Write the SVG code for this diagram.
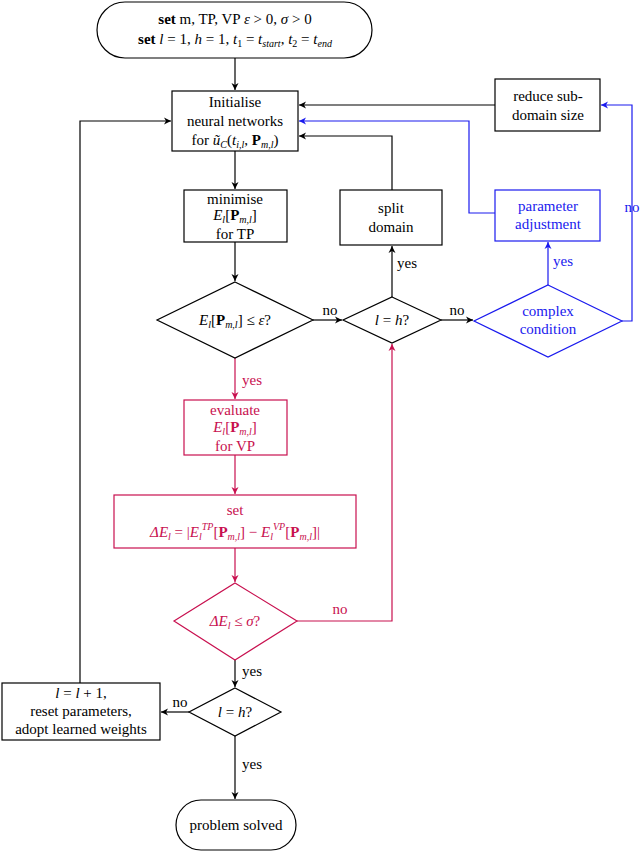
<svg xmlns="http://www.w3.org/2000/svg" width="640" height="852" viewBox="0 0 640 852">
<style>
text{font-family:"Liberation Serif","DejaVu Serif",serif;font-size:15px;text-anchor:middle;fill:#000}
.i{font-style:italic}.b{font-weight:bold}
.k{fill:#fff;stroke:#000;stroke-width:1.2}
.r{fill:#fff;stroke:#c8104f;stroke-width:1.2}
.u{fill:#fff;stroke:#1a1aee;stroke-width:1.2}
.rt{fill:#c8104f}.ut{fill:#1a1aee}
.c{fill:none;stroke-width:1.2}
</style>
<defs>
<marker id="ak" markerWidth="8" markerHeight="8" refX="7" refY="4" orient="auto" markerUnits="userSpaceOnUse"><path d="M0,0.5 L7,4 L0,7.5 L2,4z" fill="#000"/></marker>
<marker id="ar" markerWidth="8" markerHeight="8" refX="7" refY="4" orient="auto" markerUnits="userSpaceOnUse"><path d="M0,0.5 L7,4 L0,7.5 L2,4z" fill="#c8104f"/></marker>
<marker id="au" markerWidth="8" markerHeight="8" refX="7" refY="4" orient="auto" markerUnits="userSpaceOnUse"><path d="M0,0.5 L7,4 L0,7.5 L2,4z" fill="#1a1aee"/></marker>
</defs>
<g id="connectors">
<path class="c" stroke="#000" marker-end="url(#ak)" d="M235,58 V90"/>
<path class="c" stroke="#000" marker-end="url(#ak)" d="M235,151 V189"/>
<path class="c" stroke="#000" marker-end="url(#ak)" d="M235,242 V281"/>
<path class="c" stroke="#000" marker-end="url(#ak)" d="M313,320 H342"/>
<path class="c" stroke="#000" marker-end="url(#ak)" d="M392,297 V246"/>
<path class="c" stroke="#000" marker-end="url(#ak)" d="M392,190 V136 H299"/>
<path class="c" stroke="#000" marker-end="url(#ak)" d="M441,320 H473"/>
<path class="c" stroke="#000" marker-end="url(#ak)" d="M495,105 H299"/>
<path class="c" stroke="#1a1aee" marker-end="url(#au)" d="M548,285 V242"/>
<path class="c" stroke="#1a1aee" marker-end="url(#au)" d="M495,213 H469 V121 H299"/>
<path class="c" stroke="#1a1aee" marker-end="url(#au)" d="M622,321 H632 V105 H601"/>
<path class="c" stroke="#c8104f" marker-end="url(#ar)" d="M235,358 V399"/>
<path class="c" stroke="#c8104f" marker-end="url(#ar)" d="M235,455 V494"/>
<path class="c" stroke="#c8104f" marker-end="url(#ar)" d="M235,548 V582"/>
<path class="c" stroke="#c8104f" marker-end="url(#ar)" d="M297,621 H392 V344"/>
<path class="c" stroke="#000" marker-end="url(#ak)" d="M235,660 V687"/>
<path class="c" stroke="#000" marker-end="url(#ak)" d="M189,712 H161"/>
<path class="c" stroke="#000" marker-end="url(#ak)" d="M80,683 V121 H171"/>
<path class="c" stroke="#000" marker-end="url(#ak)" d="M235,736 V799"/>
<text x="330" y="315" font-size="14">no</text>
<text x="407" y="268" font-size="14">yes</text>
<text x="457" y="315" font-size="14">no</text>
<text x="563" y="266" font-size="14" class="ut">yes</text>
<text x="632" y="212" font-size="14" class="ut">no</text>
<text x="252" y="385" font-size="14" class="rt">yes</text>
<text x="340" y="614" font-size="14" class="rt">no</text>
<text x="252" y="676" font-size="14">yes</text>
<text x="180" y="707" font-size="14">no</text>
<text x="252" y="769" font-size="14">yes</text>
</g>
<g id="start">
<rect class="k" x="97" y="2" width="275" height="56" rx="28"/>
<text x="235" y="24"><tspan class="b">set</tspan> m, TP, VP <tspan class="i">ε</tspan> &gt; 0, <tspan class="i">σ</tspan> &gt; 0</text>
<text x="235" y="44"><tspan class="b">set</tspan> <tspan class="i">l</tspan> = 1, <tspan class="i">h</tspan> = 1, <tspan class="i">t</tspan><tspan font-size="10" dy="3">1</tspan><tspan dy="-3"> = </tspan><tspan class="i">t</tspan><tspan class="i" font-size="10" dy="3">start</tspan><tspan dy="-3">, </tspan><tspan class="i">t</tspan><tspan font-size="10" dy="3">2</tspan><tspan dy="-3"> = </tspan><tspan class="i">t</tspan><tspan class="i" font-size="10" dy="3">end</tspan></text>
</g>
<g id="init">
<rect class="k" x="172" y="91" width="126" height="60"/>
<text x="235" y="107">Initialise</text>
<text x="235" y="126">neural networks</text>
<text x="235" y="145">for <tspan class="i">ũ</tspan><tspan class="i" font-size="10" dy="3">C</tspan><tspan dy="-3">(</tspan><tspan class="i">t</tspan><tspan class="i" font-size="10" dy="3">i,l</tspan><tspan dy="-3">, </tspan><tspan class="b">P</tspan><tspan class="i" font-size="10" dy="3">m,l</tspan><tspan dy="-3">)</tspan></text>
</g>
<g id="minimise">
<rect class="k" x="184" y="190" width="103" height="52"/>
<text x="235" y="204">minimise</text>
<text x="235" y="220"><tspan class="i">E</tspan><tspan class="i" font-size="10" dy="3">l</tspan><tspan dy="-3">[</tspan><tspan class="b">P</tspan><tspan class="i" font-size="10" dy="3">m,l</tspan><tspan dy="-3">]</tspan></text>
<text x="235" y="239">for TP</text>
</g>
<g id="check1">
<polygon class="k" points="235,282 313,320 235,358 157,320"/>
<text x="235" y="325"><tspan class="i">E</tspan><tspan class="i" font-size="10" dy="3">l</tspan><tspan dy="-3">[</tspan><tspan class="b">P</tspan><tspan class="i" font-size="10" dy="3">m,l</tspan><tspan dy="-3">] ≤ </tspan><tspan class="i">ε</tspan>?</text>
</g>
<g id="lh1">
<polygon class="k" points="392,297 441,320 392,343 343,320"/>
<text x="392" y="325"><tspan class="i">l</tspan> = <tspan class="i">h</tspan>?</text>
</g>
<g id="split">
<rect class="k" x="340" y="190" width="102" height="55"/>
<text x="391" y="213">split</text>
<text x="391" y="232">domain</text>
</g>
<g id="complex">
<polygon class="u" points="548,285 622,321 548,357 474,321"/>
<text x="548" y="316" class="ut">complex</text>
<text x="548" y="334" class="ut">condition</text>
</g>
<g id="param">
<rect class="u" x="495" y="190" width="105" height="51"/>
<text x="548" y="211" class="ut">parameter</text>
<text x="548" y="229" class="ut">adjustment</text>
</g>
<g id="reduce">
<rect class="k" x="495" y="79" width="105" height="52"/>
<text x="548" y="101">reduce sub-</text>
<text x="548" y="120">domain size</text>
</g>
<g id="evaluate">
<rect class="r" x="184" y="400" width="103" height="55"/>
<text x="235" y="415" class="rt">evaluate</text>
<text x="235" y="432" class="rt"><tspan class="i">E</tspan><tspan class="i" font-size="10" dy="3">l</tspan><tspan dy="-3">[</tspan><tspan class="b">P</tspan><tspan class="i" font-size="10" dy="3">m,l</tspan><tspan dy="-3">]</tspan></text>
<text x="235" y="451" class="rt">for VP</text>
</g>
<g id="setdelta">
<rect class="r" x="114" y="495" width="242" height="53"/>
<text x="235" y="515" class="rt">set</text>
<text x="235" y="537" class="rt"><tspan class="i">ΔE</tspan><tspan class="i" font-size="10" dy="3">l</tspan><tspan dy="-3"> = |</tspan><tspan class="i">E</tspan><tspan class="i" font-size="10" dy="3">l</tspan><tspan class="i" font-size="10" dy="-10">TP</tspan><tspan dy="7">[</tspan><tspan class="b">P</tspan><tspan class="i" font-size="10" dy="3">m,l</tspan><tspan dy="-3">] − </tspan><tspan class="i">E</tspan><tspan class="i" font-size="10" dy="3">l</tspan><tspan class="i" font-size="10" dy="-10">VP</tspan><tspan dy="7">[</tspan><tspan class="b">P</tspan><tspan class="i" font-size="10" dy="3">m,l</tspan><tspan dy="-3">]|</tspan></text>
</g>
<g id="check2">
<polygon class="r" points="235,583 297,621 235,660 174,621"/>
<text x="235" y="626" class="rt"><tspan class="i">ΔE</tspan><tspan class="i" font-size="10" dy="3">l</tspan><tspan dy="-3"> ≤ </tspan><tspan class="i">σ</tspan>?</text>
</g>
<g id="lh2">
<polygon class="k" points="235,688 281,712 235,736 189,712"/>
<text x="235" y="717"><tspan class="i">l</tspan> = <tspan class="i">h</tspan>?</text>
</g>
<g id="reset">
<rect class="k" x="2" y="683" width="158" height="57"/>
<text x="81" y="698"><tspan class="i">l</tspan> = <tspan class="i">l</tspan> + 1,</text>
<text x="81" y="716">reset parameters,</text>
<text x="81" y="734">adopt learned weights</text>
</g>
<g id="solved">
<rect class="k" x="176" y="800" width="120" height="50" rx="25"/>
<text x="236" y="830">problem solved</text>
</g>
</svg>
